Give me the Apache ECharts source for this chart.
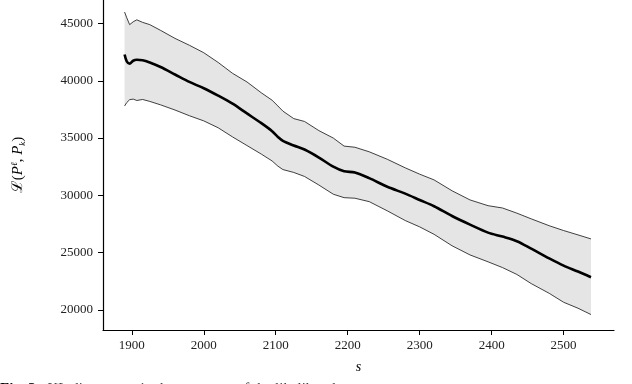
<!DOCTYPE html>
<html>
<head>
<meta charset="utf-8">
<script src="https://cdn.jsdelivr.net/npm/echarts@6/dist/echarts.min.js"></script>
<style>
  html, body { margin: 0; padding: 0; background: #fff; }
  #main { width: 632px; height: 384px; }
</style>
</head>
<body>
<div id="main"></div>
<script>
// step s on x, likelihood on y (mean with an upper/lower band)
var steps = [1890, 1893, 1897, 1902, 1907, 1915, 1925, 1940, 1960, 1980,
             2000, 2020, 2040, 2060, 2080, 2095, 2103, 2110, 2125, 2140,
             2160, 2180, 2195, 2210, 2230, 2255, 2280, 2300, 2320, 2345,
             2370, 2395, 2415, 2435, 2455, 2480, 2500, 2520, 2538];

var meanVals = [42300, 41700, 41500, 41750, 41830, 41800, 41600, 41200, 40550, 39900,
                39350, 38700, 38000, 37150, 36300, 35600, 35100, 34750, 34350, 34000,
                33300, 32500, 32100, 32000, 31500, 30750, 30150, 29600, 29050, 28200,
                27450, 26750, 26400, 26000, 25350, 24500, 23870, 23350, 22850];

var upperVals = [46000, 45500, 44900, 45150, 45320, 45100, 44900, 44400, 43700, 43100,
                 42450, 41600, 40650, 39900, 38950, 38300, 37800, 37350, 36700, 36450,
                 35650, 35000, 34300, 34200, 33800, 33150, 32400, 31850, 31350, 30400,
                 29600, 29100, 28900, 28450, 27950, 27350, 26930, 26550, 26200];

var lowerVals = [37800, 38100, 38350, 38400, 38280, 38370, 38200, 37900, 37450, 36950,
                 36500, 35900, 35100, 34350, 33600, 33000, 32550, 32250, 32000, 31650,
                 30900, 30100, 29800, 29750, 29450, 28650, 27800, 27250, 26600, 25600,
                 24800, 24200, 23700, 23100, 22300, 21450, 20670, 20150, 19600];

var xTicks = [1900, 2000, 2100, 2200, 2300, 2400, 2500];
var yTicks = [20000, 25000, 30000, 35000, 40000, 45000];

function pairs(ys) {
    return steps.map(function (s, i) { return [s, ys[i]]; });
}

var myChart = echarts.init(document.getElementById('main'));

var serif = '"Liberation Serif", "DejaVu Serif", serif';

var option = {
    animation: false,
    backgroundColor: '#fff',
    grid: { left: 103, right: 18, top: 0, bottom: 54 },
    xAxis: {
        type: 'value',
        min: 1860,
        max: 2570,
        name: 's',
        nameLocation: 'middle',
        nameGap: 30,
        nameTextStyle: { fontFamily: serif, fontStyle: 'italic', fontSize: 14, color: '#000' },
        splitLine: { show: false },
        axisLine: { lineStyle: { color: '#000', width: 1.2 } },
        axisTick: { customValues: xTicks, length: 5, lineStyle: { color: '#000' } },
        axisLabel: {
            customValues: xTicks, margin: 9, fontFamily: serif, fontSize: 13, color: '#222',
            formatter: function (v) { return String(v); }
        },
        z: 5
    },
    yAxis: {
        type: 'value',
        min: 18250,
        max: 47050,
        name: '{a|ℒ(}{p|P}{sup|ℓ}{a|, }{p|P}{sub|k}{a|)}',
        nameLocation: 'middle',
        nameGap: 76,
        nameRotate: 90,
        nameTextStyle: {
            color: '#000',
            rich: {
                a: { fontFamily: serif, fontSize: 15, color: '#000' },
                p: { fontFamily: serif, fontStyle: 'italic', fontSize: 15, color: '#000' },
                sup: { fontFamily: serif, fontStyle: 'italic', fontSize: 9, color: '#000', padding: [0, 0, 8, 0] },
                sub: { fontFamily: serif, fontStyle: 'italic', fontSize: 9, color: '#000', padding: [8, 0, 0, 0] }
            }
        },
        splitLine: { show: false },
        axisLine: { show: true, lineStyle: { color: '#000', width: 1.2 } },
        axisTick: { show: true, customValues: yTicks, length: 5, lineStyle: { color: '#000' } },
        axisLabel: {
            customValues: yTicks, margin: 10, fontFamily: serif, fontSize: 13, color: '#222',
            formatter: function (v) { return String(v); }
        },
        z: 5
    },
    series: [
        {
            // grey band between the lower and upper bound
            type: 'custom',
            data: [[steps[0], upperVals[0]]],
            silent: true,
            z: 1,
            renderItem: function (params, api) {
                var pts = [];
                for (var i = 0; i < steps.length; i++) {
                    pts.push(api.coord([steps[i], upperVals[i]]));
                }
                for (var j = steps.length - 1; j >= 0; j--) {
                    pts.push(api.coord([steps[j], lowerVals[j]]));
                }
                return {
                    type: 'polygon',
                    shape: { points: pts },
                    style: { fill: '#e5e5e5', stroke: null }
                };
            }
        },
        {
            type: 'line',
            data: pairs(upperVals),
            symbol: 'none',
            z: 2,
            lineStyle: { color: '#111', width: 0.8 }
        },
        {
            type: 'line',
            data: pairs(lowerVals),
            symbol: 'none',
            z: 2,
            lineStyle: { color: '#111', width: 0.8 }
        },
        {
            type: 'line',
            data: pairs(meanVals),
            symbol: 'none',
            smooth: 0.3,
            z: 3,
            lineStyle: { color: '#000', width: 2.6 }
        }
    ],
    graphic: [
        {
            // caption, cut off by the bottom edge
            type: 'text',
            x: 0,
            y: 382,
            style: {
                text: '{b|Fig. 3:}  {g|KL divergence in the sequence of the likelihood}',
                verticalAlign: 'top',
                rich: {
                    b: { fontFamily: serif, fontWeight: 'bold', fontSize: 15, fill: '#000' },
                    g: { fontFamily: serif, fontSize: 15, fill: '#444' }
                }
            }
        }
    ]
};

myChart.setOption(option);
</script>
</body>
</html>
